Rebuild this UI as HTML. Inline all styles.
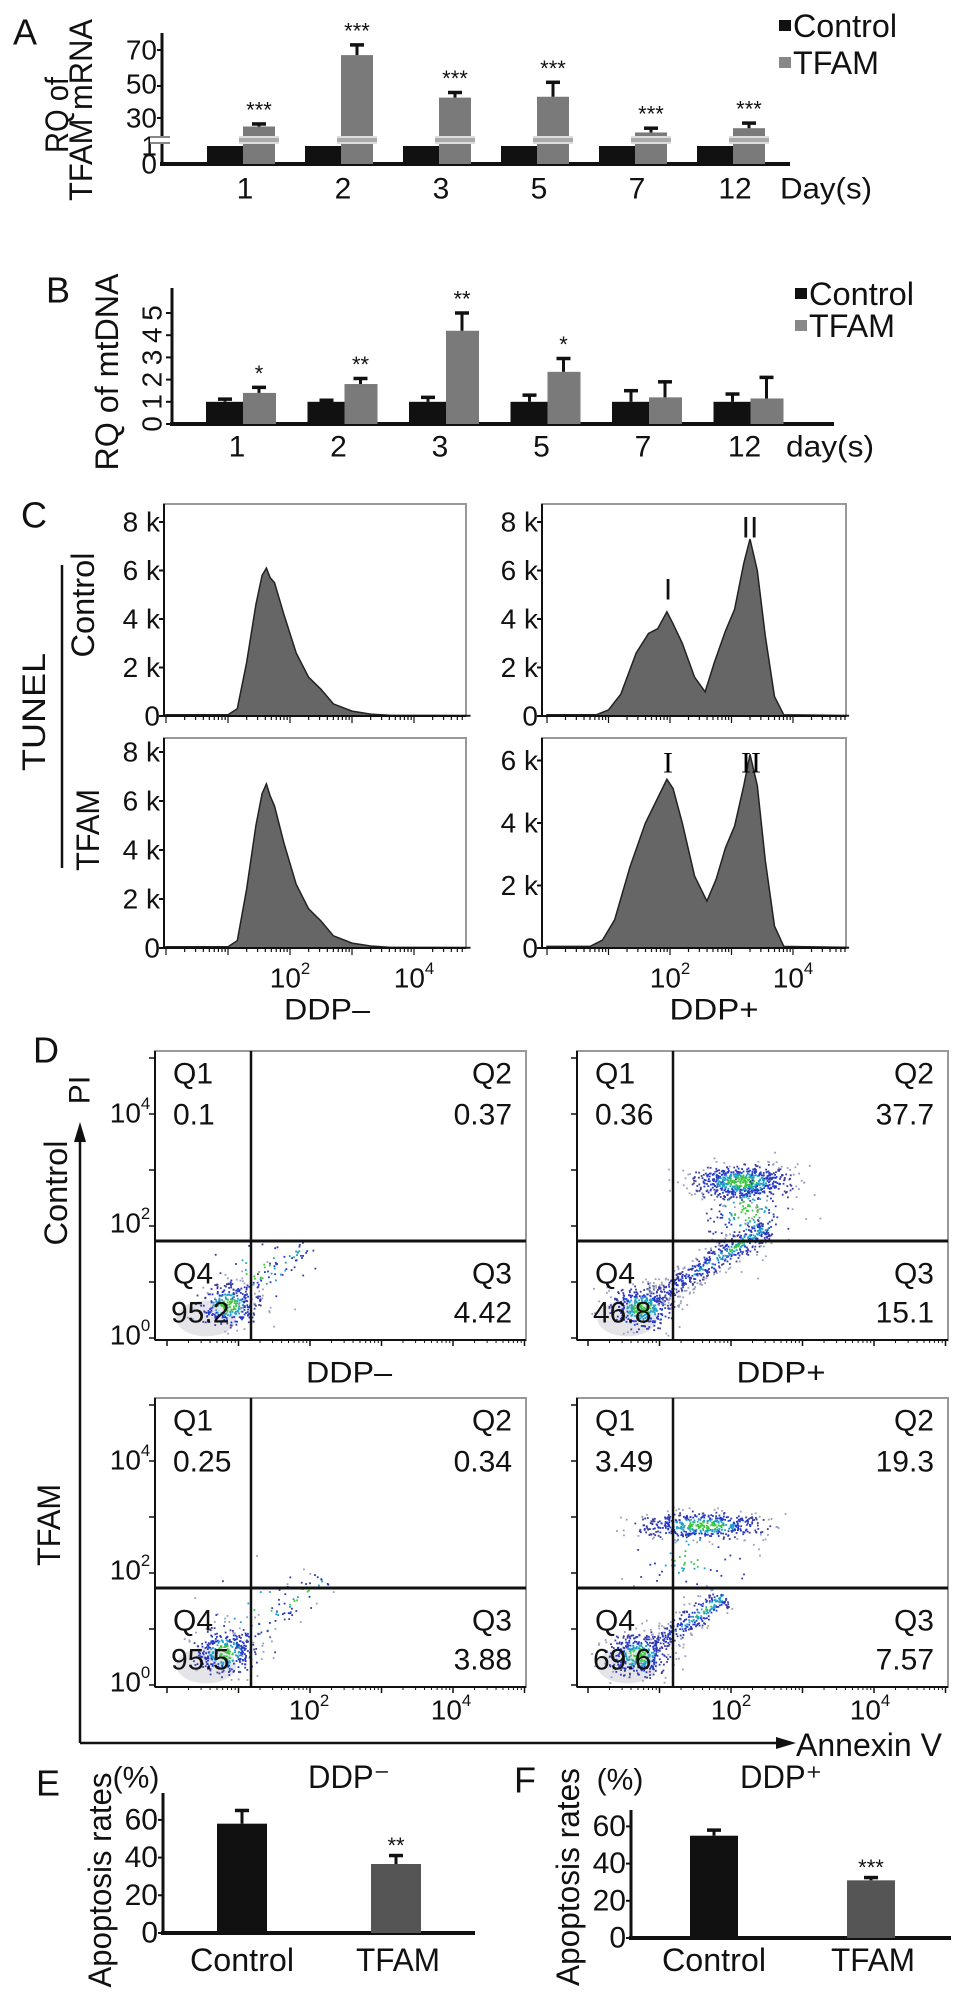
<!DOCTYPE html>
<html><head><meta charset="utf-8">
<style>
html,body{margin:0;padding:0;background:#fff;}
svg{display:block;font-family:"Liberation Sans",Arial,sans-serif;}
</style></head>
<body>
<svg id="fig" width="969" height="2000" viewBox="0 0 969 2000" xmlns="http://www.w3.org/2000/svg"></svg>
<script>
// ---------- DATA ----------
const daysA = ['1','2','3','5','7','12'];
const ctrlA = [1,1,1,1,1,1];
const ctrlErrA = [0.05,0.05,0.05,0.05,0.05,0.05];
const tfamA = [25,67,42,42.5,21.5,24];
const tfamErrA = [1.5,6,3,8.5,2.5,3];
const starsA = ['***','***','***','***','***','***'];

const daysB = ['1','2','3','5','7','12'];
const ctrlB = [1,1,1,1,1,1];
const ctrlErrB = [0.12,0.07,0.2,0.3,0.5,0.35];
const tfamB = [1.4,1.8,4.2,2.35,1.2,1.15];
const tfamErrB = [0.25,0.25,0.8,0.6,0.7,0.95];
const starsB = ['*','**','**','*','',''];

// histograms: x in log10 decades, y in thousands of counts
const histX_TL = [0,1.0,1.15,1.3,1.45,1.55,1.62,1.68,1.75,1.9,2.1,2.3,2.5,2.7,3.0,3.3,3.6,4.9];
const histY_TL = [0.05,0.05,0.3,2.2,4.6,5.8,6.1,5.7,5.5,4.2,2.6,1.6,1.1,0.5,0.2,0.08,0.03,0.02];
const histX_BL = [0,1.0,1.15,1.3,1.45,1.55,1.62,1.68,1.75,1.9,2.1,2.3,2.5,2.7,3.0,3.3,3.6,4.9];
const histY_BL = [0.05,0.05,0.3,2.4,5.0,6.3,6.7,6.2,5.8,4.3,2.6,1.6,1.1,0.5,0.2,0.08,0.03,0.02];
const histX_TR = [0,0.8,1.0,1.2,1.45,1.65,1.8,1.95,2.05,2.2,2.4,2.57,2.72,2.9,3.05,3.2,3.3,3.42,3.55,3.7,3.85,4.9];
const histY_TR = [0.05,0.05,0.25,0.9,2.6,3.4,3.6,4.3,3.8,3.0,1.6,1.0,2.2,3.5,4.4,6.3,7.3,6.0,3.3,0.8,0.05,0.02];
const histX_BR = [0,0.7,0.9,1.1,1.35,1.6,1.8,1.95,2.05,2.2,2.4,2.6,2.75,2.9,3.05,3.2,3.3,3.42,3.55,3.7,3.85,4.9];
const histY_BR = [0.05,0.05,0.25,0.9,2.6,4.0,4.8,5.4,5.1,4.0,2.3,1.5,2.2,3.2,3.9,5.2,6.2,5.2,2.8,0.7,0.05,0.02];

// flow clusters: [xLog, yLog, sdX, sdY, count]
const blobsTL = [[0.85,0.6,0.22,0.2,320],[1.3,1.2,0.35,0.3,40]];
const streakTL = [[0.9,0.7,2.0,1.7,0.08,60]];
const blobsTR = [[0.75,0.55,0.22,0.2,380],[2.14,2.8,0.35,0.16,650],[2.2,2.3,0.3,0.35,160]];
const streakTR = [[0.9,0.7,2.5,2.0,0.1,520]];
const blobsBL = [[0.8,0.6,0.22,0.22,340],[1.3,1.3,0.4,0.4,25]];
const streakBL = [[0.9,0.7,2.2,1.9,0.1,80]];
const blobsBR = [[0.7,0.55,0.22,0.2,380],[1.6,2.86,0.45,0.12,480],[1.4,2.3,0.4,0.35,60]];
const streakBR = [[0.9,0.7,1.9,1.6,0.1,280]];

const quadTL = ['0.1','0.37','95.2','4.42'];
const quadTR = ['0.36','37.7','46.8','15.1'];
const quadBL = ['0.25','0.34','95.5','3.88'];
const quadBR = ['3.49','19.3','69.6','7.57'];

const groupsEF = ['Control','TFAM'];
const valsE = [58,36.6];
const errE = [7,4.5];
const starsE = ['','**'];
const valsF = [55,31];
const errF = [3,1.5];
const starsF = ['','***'];

// ---------- HELPERS ----------
const NS='http://www.w3.org/2000/svg';
const svg=document.getElementById('fig');
function mk(tag, attrs, name, parent){
  const e=document.createElementNS(NS,tag);
  for(const k in attrs) e.setAttribute(k,attrs[k]);
  
  
  (parent||svg).appendChild(e);
  return e;
}
function txt(x,y,s,size,name,opt){
  opt=opt||{};
  const a={x:x,y:y,'font-size':size,'text-anchor':opt.anchor||'middle','dominant-baseline':'central',fill:opt.fill||'#111'};
  if(opt.rot) a.transform='rotate('+opt.rot+' '+x+' '+y+')';
  if(opt.len){a.textLength=opt.len;a.lengthAdjust='spacingAndGlyphs';}
  const e=mk('text',a,name);
  e.textContent=s;
  return e;
}
function pow(x,y,exp,name,size){
  size=size||28;
  const e=mk('text',{x:x,y:y,'font-size':size,'text-anchor':'middle','dominant-baseline':'central',fill:'#111'},name);
  e.appendChild(document.createTextNode('10'));
  const t=document.createElementNS(NS,'tspan');
  t.setAttribute('font-size',size*0.6);t.setAttribute('dy',-size*0.35);
  t.textContent=exp;e.appendChild(t);
  return e;
}
function line(x1,y1,x2,y2,w,name,col){return mk('line',{x1:x1,y1:y1,x2:x2,y2:y2,stroke:col||'#111','stroke-width':w},name);}
function rect(x,y,w,h,fill,name){return mk('rect',{x:x,y:y,width:w,height:h,fill:fill},name);}
function errbar(x,y1,y2,name){line(x,y1,x,y2,3,name);line(x-7,y2,x+7,y2,3.5,name+'-cap');}

// ---------- PANEL A ----------
txt(25,32,'A',36,'panel-a-label');
txt(57,115,'RQ of',32,'panel-a-y-title-1',{rot:-90,len:76});
txt(81,110,'TFAM mRNA',32,'panel-a-y-title-2',{rot:-90,len:182});
const xA=i=>243+i*98;
const yA=v=> v<=1 ? 164-v*18 : 118-(v-30)*1.7;
line(162,33,162,165,3,'panel-a-y-axis');
line(160,164,790,164,4,'panel-a-x-axis');
[[0,'0'],[1,'1'],[30,'30'],[50,'50'],[70,'70']].forEach(t=>{
  txt(157,yA(t[0]),t[1],28,'panel-a-y-tick-'+t[1],{anchor:'end'});
});
[50,86,118].forEach((y,i)=>line(157,y,162,y,2,'panel-a-tick-mark'));
rect(150,136,20,8,'#fff','panel-a-axis-break');
line(150,137,170,137,2,'panel-a-axis-break-line','#888');line(150,143,170,143,2,'panel-a-axis-break-line','#888');
daysA.forEach((d,i)=>{
  const c=xA(i);
  rect(c-36,yA(ctrlA[i]),36,164-yA(ctrlA[i]),'#111','bar-a-control-day'+d);
  const ty=yA(tfamA[i]);
  rect(c,ty,32,164-ty,'#7a7a7a','bar-a-tfam-day'+d);
  rect(c-4,136,40,8,'#aaa','bar-a-break-day'+d);
  line(c-4,137,c+36,137,1.5,'bar-a-break-line','#eee');line(c-4,143,c+36,143,1.5,'bar-a-break-line','#eee');
  errbar(c+16,ty,yA(tfamA[i]+tfamErrA[i]),'err-a-tfam-day'+d);
  txt(c+16,yA(tfamA[i]+tfamErrA[i])-14,starsA[i],22,'stars-a-day'+d);
  txt(c+2,189,d,30,'panel-a-x-tick-'+d);
});
txt(826,189,'Day(s)',30,'panel-a-x-title',{len:92});
rect(779,20,12,11,'#111','legend-a-control-swatch');
txt(793,26,'Control',32,'legend-a-control',{anchor:'start',len:104});
rect(779,57,12,11,'#888','legend-a-tfam-swatch');
txt(793,63,'TFAM',32,'legend-a-tfam',{anchor:'start',len:86});

// ---------- PANEL B ----------
txt(58,290,'B',36,'panel-b-label');
txt(107,372,'RQ of mtDNA',32,'panel-b-y-title',{rot:-90,len:197});
const xB=i=>243+i*101.5;
const yB=v=>424-v*22.2;
line(172,288,172,425,3,'panel-b-y-axis');
line(170,424,834,424,4,'panel-b-x-axis');
[0,1,2,3,4,5].forEach(v=>{txt(152,yB(v),String(v),28,'panel-b-y-tick-'+v,{rot:-90});line(166,yB(v),172,yB(v),2,'panel-b-tick-mark');});
daysB.forEach((d,i)=>{
  const c=xB(i);
  rect(c-37,yB(ctrlB[i]),37,424-yB(ctrlB[i]),'#111','bar-b-control-day'+d);
  errbar(c-18,yB(ctrlB[i]),yB(ctrlB[i]+ctrlErrB[i]),'err-b-control-day'+d);
  rect(c,yB(tfamB[i]),33,424-yB(tfamB[i]),'#7a7a7a','bar-b-tfam-day'+d);
  errbar(c+16,yB(tfamB[i]),yB(tfamB[i]+tfamErrB[i]),'err-b-tfam-day'+d);
  if(starsB[i]) txt(c+16,yB(tfamB[i]+tfamErrB[i])-14,starsB[i],22,'stars-b-day'+d);
  txt(c-6,447,d,30,'panel-b-x-tick-'+d);
});
txt(830,447,'day(s)',30,'panel-b-x-title',{len:88});
rect(795,288,12,11,'#111','legend-b-control-swatch');
txt(809,294,'Control',32,'legend-b-control',{anchor:'start',len:105});
rect(795,320,12,11,'#888','legend-b-tfam-swatch');
txt(809,326,'TFAM',32,'legend-b-tfam',{anchor:'start',len:86});

// ---------- PANEL C ----------
txt(34,515,'C',36,'panel-c-label');
txt(34,712,'TUNEL',32,'panel-c-tunel-label',{rot:-90,len:118});
line(62,565,62,868,2.5,'panel-c-bracket');
txt(83,605,'Control',32,'panel-c-control-label',{rot:-90,len:105});
txt(88,830,'TFAM',32,'panel-c-tfam-label',{rot:-90,len:82});
function histo(bx,by0,bw,top,x0,dec,kpx,xs,ys,ticks,name){
  mk('rect',{x:bx,y:top,width:bw,height:by0-top,fill:'none',stroke:'#999','stroke-width':2},name+'-frame');
  let d='M'+(x0+xs[0]*dec)+','+by0;
  xs.forEach((v,i)=>{d+=' L'+(x0+v*dec).toFixed(1)+','+(by0-ys[i]*kpx).toFixed(1);});
  d+=' L'+(x0+xs[xs.length-1]*dec)+','+by0+' Z';
  mk('path',{d:d,fill:'#666',stroke:'#222','stroke-width':1.5},name+'-area');
  line(bx,top,bx,by0,2,name+'-y-axis');
  line(bx,by0,bx+bw,by0,2,name+'-x-axis');
  ticks.forEach(k=>{const y=by0-k*kpx;line(bx-5,y,bx,y,2,name+'-y-tick');
    txt(bx-4,y,k===0?'0':k+' k',28,name+'-y-label-'+k,{anchor:'end'});});
  for(let dd=0;dd<5;dd++)for(let m=1;m<10;m++){const x=x0+(dd+Math.log10(m))*dec;if(x<bx+bw) line(x,by0,x,by0+(m===1?7:4),1.2,name+'-x-minor');}
}
histo(164,716,302,504,166,62,24.25,histX_TL,histY_TL,[0,2,4,6,8],'hist-control-ddp-neg');
histo(542,716,304,504,547,61.5,24.25,histX_TR,histY_TR,[0,2,4,6,8],'hist-control-ddp-pos');
histo(164,948,302,738,166,62,24.5,histX_BL,histY_BL,[0,2,4,6,8],'hist-tfam-ddp-neg');
histo(542,948,304,738,547,61.5,31.25,histX_BR,histY_BR,[0,2,4,6],'hist-tfam-ddp-pos');
txt(668,590,'I',30,'peak-i-control',{fill:'#111'});
txt(750,528,'II',30,'peak-ii-control');
mk('text',{x:668,y:763,'font-size':30,'text-anchor':'middle','dominant-baseline':'central','font-family':'Liberation Serif'},'peak-i-tfam').textContent='I';
mk('text',{x:751,y:763,'font-size':30,'text-anchor':'middle','dominant-baseline':'central','font-family':'Liberation Serif'},'peak-ii-tfam').textContent='II';
pow(290,978,'2','hist-x-tick-left-1e2');pow(414,978,'4','hist-x-tick-left-1e4');
pow(670,978,'2','hist-x-tick-right-1e2');pow(793,978,'4','hist-x-tick-right-1e4');
txt(327,1010,'DDP–',30,'panel-c-ddp-neg',{len:86});
txt(714,1010,'DDP+',30,'panel-c-ddp-pos',{len:89});

// ---------- PANEL D ----------
txt(46,1050,'D',36,'panel-d-label');
line(80,1743,80,1140,2.5,'pi-axis-arrow-line');
mk('polygon',{points:'80,1122 74,1142 86,1142',fill:'#111'},'pi-axis-arrowhead');
txt(80,1090,'PI',30,'pi-axis-title',{rot:-90});
line(80,1743,778,1743,2.5,'annexin-axis-arrow-line');
mk('polygon',{points:'796,1743 776,1737 776,1749',fill:'#111'},'annexin-axis-arrowhead');
txt(869,1745,'Annexin V',32,'annexin-axis-title',{len:146});
txt(56,1193,'Control',32,'panel-d-control-label',{rot:-90,len:105});
txt(49,1525,'TFAM',32,'panel-d-tfam-label',{rot:-90,len:82});
txt(349,1373,'DDP–',30,'panel-d-ddp-neg',{len:86});
txt(781,1373,'DDP+',30,'panel-d-ddp-pos',{len:89});

let seed=12345;
function rnd(){seed|=0;seed=seed+0x6D2B79F5|0;let t=Math.imul(seed^seed>>>15,1|seed);t=t+Math.imul(t^t>>>7,61|t)^t;return((t^t>>>14)>>>0)/4294967296;}
function gauss(){let u=rnd()||1e-6,v=rnd();return Math.sqrt(-2*Math.log(u))*Math.cos(2*Math.PI*v);}
function colorFor(d){return d<0.6?'#3cc83c':d<1.0?'#1fa0c8':d<1.6?'#2438c8':d<2.2?'#3a3aa0':'#9aa0c0';}

function flow(px,py,pw,ph,x0,yb,vx,hy,blobs,streaks,q,name){
  const g=mk('g',{},name);
  mk('rect',{x:px,y:py,width:pw,height:ph,fill:'#fff',stroke:'#999','stroke-width':2},name+'-frame',g);
  const X=v=>x0+v*71.5, Y=v=>yb-v*56;
  const pts=[];
  blobs.forEach(b=>{for(let i=0;i<b[4];i++){const a=gauss(),c=gauss();pts.push([X(b[0]+a*b[2]),Y(b[1]+c*b[3]),Math.hypot(a,c)]);}});
  streaks.forEach(s=>{for(let i=0;i<s[5];i++){const t=rnd(),a=gauss();const lx=s[0]+(s[2]-s[0])*t, ly=s[1]+(s[3]-s[1])*t;
    const d=Math.abs(a)+0.6*Math.abs(t-0.75)*2;pts.push([X(lx+a*s[4]*0.7),Y(ly-a*s[4]),d+0.4]);}});
  mk('ellipse',{cx:X(0.55),cy:Y(0.35),rx:30,ry:18,fill:'#d8d8e0',opacity:0.7},name+'-dense-core',g);
  pts.forEach(p=>{if(p[0]>px+2&&p[0]<px+pw-2&&p[1]>py+2&&p[1]<py+ph-2){
    const r=mk('rect',{x:p[0].toFixed(1),y:p[1].toFixed(1),width:1.8,height:1.8,fill:colorFor(p[2])},name+'-event',g);}});
  line(px,py,px,py+ph,2,name+'-y-axis');
  line(px,py+ph,px+pw,py+ph,2,name+'-x-axis');
  line(vx,py,vx,py+ph,2.5,name+'-quad-v');
  line(px,hy,px+pw,hy,3,name+'-quad-h');
  for(let dd=0;dd<6;dd++){const x=x0+dd*71.5*1-0;if(x<px+pw)line(x,py+ph,x,py+ph+6,1.5,name+'-x-major');
    for(let m=2;m<10;m++){const xm=x0+(dd+Math.log10(m))*71.5;if(xm<px+pw)line(xm,py+ph,xm,py+ph+3,1,name+'-x-minor');}}
  for(let dd=0;dd<6;dd++){const y=yb-dd*56;if(y>py)line(px-6,y,px,y,1.5,name+'-y-major');}
  const L=px+18,R=px+pw-14;
  txt(L,py+23,'Q1',30,name+'-q1-label',{anchor:'start'});
  txt(R,py+23,'Q2',30,name+'-q2-label',{anchor:'end'});
  txt(L,py+64,q[0],30,name+'-q1-value',{anchor:'start'});
  txt(R,py+64,q[1],30,name+'-q2-value',{anchor:'end'});
  txt(L,hy+33,'Q4',30,name+'-q4-label',{anchor:'start'});
  txt(R,hy+33,'Q3',30,name+'-q3-label',{anchor:'end'});
  txt(L-2,hy+72,q[2],30,name+'-q4-value',{anchor:'start'});
  txt(R,hy+72,q[3],30,name+'-q3-value',{anchor:'end'});
}
flow(155,1051,371,289,167,1338,251,1241,blobsTL,streakTL,quadTL,'flow-control-ddp-neg');
flow(577,1051,371,289,588,1338,673,1241,blobsTR,streakTR,quadTR,'flow-control-ddp-pos');
flow(155,1398,371,289,167,1685,251,1588,blobsBL,streakBL,[quadBL[0],quadBL[1],quadBL[2],quadBL[3]],'flow-tfam-ddp-neg');
flow(577,1398,371,289,588,1685,673,1588,blobsBR,streakBR,quadBR,'flow-tfam-ddp-pos');
pow(130,1113,'4','flow-y-tick-top-1e4');pow(130,1223,'2','flow-y-tick-top-1e2');pow(130,1335,'0','flow-y-tick-top-1e0');
pow(130,1460,'4','flow-y-tick-bottom-1e4');pow(130,1570,'2','flow-y-tick-bottom-1e2');pow(130,1682,'0','flow-y-tick-bottom-1e0');
pow(309,1710,'2','flow-x-tick-left-1e2');pow(451,1710,'4','flow-x-tick-left-1e4');
pow(731,1710,'2','flow-x-tick-right-1e2');pow(870,1710,'4','flow-x-tick-right-1e4');

// ---------- PANELS E / F ----------
function barPanel(letter,lx,ly,ax,top,base,end,pxPer,vals,errs,stars,xs,bw,colors,ylabX,ylabY,ylabLen,pctX,pctY,title,titleX,name){
  txt(lx,ly,letter,36,name+'-label');
  txt(ylabX,ylabY,'Apoptosis rates',32,name+'-y-title',{rot:-90,len:ylabLen});
  txt(pctX,pctY,'(%)',30,name+'-y-unit');
  txt(titleX,1777,title,32,name+'-title',{len:82});
  const Y=v=>base-v*pxPer;
  line(ax,top,ax,base+1,3,name+'-y-axis');
  line(ax-2,base,end,base,4,name+'-x-axis');
  [0,20,40,60].forEach(v=>{txt(ax-5,Y(v),String(v),30,name+'-y-tick-'+v,{anchor:'end'});line(ax-5,Y(v),ax,Y(v),2,name+'-tick');});
  groupsEF.forEach((g,i)=>{
    rect(xs[i]-bw/2,Y(vals[i]),bw,base-Y(vals[i]),colors[i],name+'-bar-'+g.toLowerCase());
    errbar(xs[i],Y(vals[i]),Y(vals[i]+errs[i]),name+'-err-'+g.toLowerCase());
    if(stars[i]) txt(xs[i],Y(vals[i]+errs[i])-10,stars[i],22,name+'-stars-'+g.toLowerCase());
  });
  txt(xs[0],1960,groupsEF[0],32,name+'-x-tick-control',{len:104});
  txt(xs[1]+2,1960,groupsEF[1],32,name+'-x-tick-tfam',{len:84});
}
barPanel('E',48,1783,163,1793,1933,475,1.885,valsE,errE,starsE,[242,396],50,['#111','#555'],100,1880,215,136,1778,'DDP⁻',349,'panel-e');
barPanel('F',525,1780,631,1810,1938,951,1.86,valsF,errF,starsF,[714,871],48,['#111','#555'],568,1877,218,620,1780,'DDP⁺',781,'panel-f');
</script>
</body></html>
